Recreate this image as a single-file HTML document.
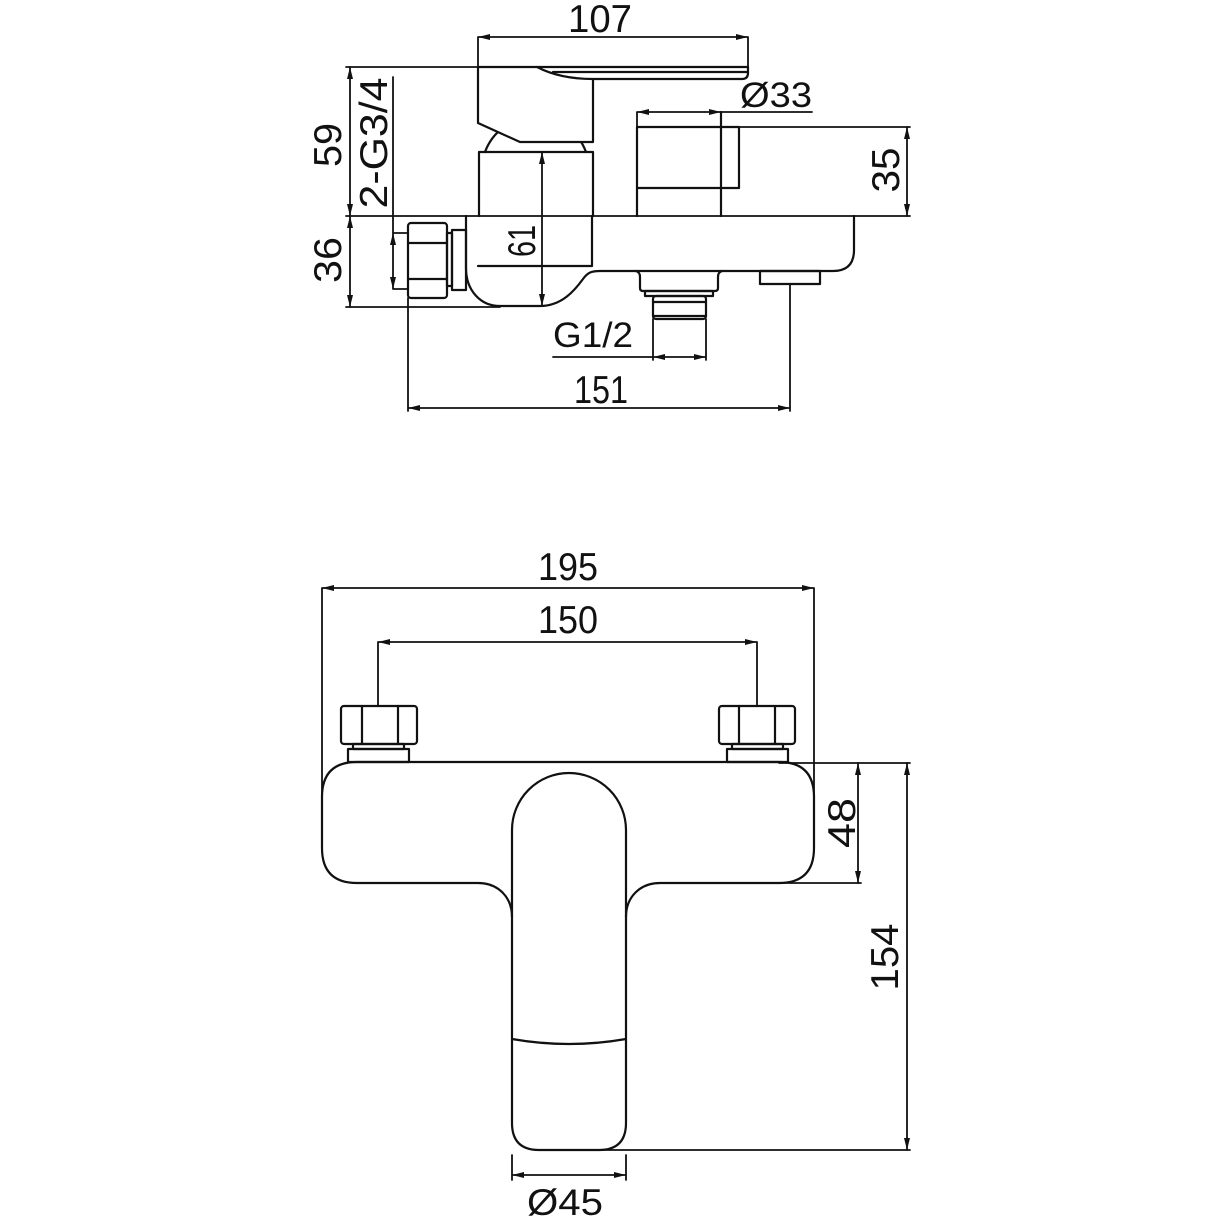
<!DOCTYPE html>
<html>
<head>
<meta charset="utf-8">
<style>
html,body{margin:0;padding:0;background:#fff;}
svg{display:block;}
text{font-family:"Liberation Sans","DejaVu Sans",sans-serif;fill:#111;}
</style>
</head>
<body>
<svg width="1220" height="1220" viewBox="0 0 1220 1220" xmlns="http://www.w3.org/2000/svg">
<rect width="1220" height="1220" fill="#fff"/>

<!-- ================= TOP (SIDE) VIEW ================= -->
<g fill="none" stroke="#111" stroke-width="2.2" stroke-linejoin="round" stroke-linecap="round">
  <!-- dome behind handle -->
  <path d="M485,152 A53.8,53.8 0 0 1 586,152"/>
  <!-- handle (white fill covers dome) -->
  <path d="M478,67 L748,67 L748,73 Q748,79 742,79 L593,79 L593,142 L520,142 L478,123 Z" fill="#fff"/>
  <path d="M537,67 Q560,79 593,79"/>
  <path d="M553,72 L748,72"/>
  <!-- column -->
  <path d="M479,216 L479,152 L593,152 L593,216"/>
  <!-- 61 inner ext -->
  <path d="M478,266 L592,266 L592,216"/>
  <!-- diverter -->
  <path d="M637,216 L637,127 L739,127 L739,188 L637,188"/>
  <path d="M721,112 L721,216"/>
  <!-- body -->
  <path d="M466,216 L466,268 C466,290 480,306 500,306 L540,306 C562,306 575,290 583,279 C588,272 592,271 600,271 L833,271 Q854,271 854,250 L854,216"/>
  <!-- nut -->
  <rect x="408" y="223" width="39" height="75" rx="3"/>
  <path d="M408,243 L447,243 M408,279 L447,279"/>
  <rect x="447" y="233" width="5" height="53"/>
  <rect x="452" y="230" width="14" height="60"/>
  <!-- outlet boss G1/2 -->
  <path d="M636,271 Q640,272 640,277 L640,288 Q640,291 643,291 L715,291 Q718,291 718,288 L718,277 Q718,272 722,271"/>
  <rect x="645" y="291" width="68" height="5"/>
  <rect x="653" y="296" width="53" height="23" rx="3"/>
  <path d="M653,302 L706,302 M653,316 L706,316"/>
  <!-- small rect -->
  <rect x="760" y="271" width="60" height="13"/>
</g>

<!-- top view dimension lines -->
<g fill="none" stroke="#111" stroke-width="1.8" stroke-linecap="round">
  <!-- long horizontal lines -->
  <path d="M346,67 L478,67"/>
  <path d="M346,216 L910,216"/>
  <path d="M346,307 L500,307"/>
  <path d="M739,127 L910,127"/>
  <!-- 107 -->
  <path d="M478,37 L748,37 M478,37 L478,67 M748,37 L748,67"/>
  <!-- 59 / 36 -->
  <path d="M350,67 L350,307"/>
  <!-- 2-G3/4 -->
  <path d="M393,77 L393,289 M393,233 L408,233 M393,289 L408,289"/>
  <!-- 61 -->
  <path d="M542,152 L542,306"/>
  <!-- Ø33 -->
  <path d="M637,112 L812,112 M637,112 L637,127"/>
  <!-- 35 -->
  <path d="M907,127 L907,216"/>
  <!-- G1/2 -->
  <path d="M553,357 L706,357 M653,319 L653,360 M706,319 L706,360"/>
  <!-- 151 -->
  <path d="M408,408 L790,408 M408,298 L408,411 M790,284 L790,411"/>
</g>
<g fill="#111" stroke="none">
  <!-- 107 -->
  <polygon points="478,37 490,34 490,40"/>
  <polygon points="748,37 736,34 736,40"/>
  <!-- 59 -->
  <polygon points="350,67 347,79 353,79"/>
  <polygon points="350,216 347,204 353,204"/>
  <!-- 36 -->
  <polygon points="350,216 347,228 353,228"/>
  <polygon points="350,307 347,295 353,295"/>
  <!-- 2-G3/4 -->
  <polygon points="393,233 390,245 396,245"/>
  <polygon points="393,289 390,277 396,277"/>
  <!-- 61 -->
  <polygon points="542,152 539,164 545,164"/>
  <polygon points="542,306 539,294 545,294"/>
  <!-- Ø33 -->
  <polygon points="637,112 649,109 649,115"/>
  <polygon points="721,112 709,109 709,115"/>
  <!-- 35 -->
  <polygon points="907,127 904,139 910,139"/>
  <polygon points="907,216 904,204 910,204"/>
  <!-- G1/2 -->
  <polygon points="653,357 665,354 665,360"/>
  <polygon points="706,357 694,354 694,360"/>
  <!-- 151 -->
  <polygon points="408,408 420,405 420,411"/>
  <polygon points="790,408 778,405 778,411"/>
</g>

<!-- top view labels -->
<g font-size="39">
  <text x="600" y="32" text-anchor="middle" textLength="64" lengthAdjust="spacingAndGlyphs">107</text>
  <text x="601" y="403" text-anchor="middle" textLength="54" lengthAdjust="spacingAndGlyphs">151</text>
  <text transform="translate(327,145) rotate(-90)" x="0" y="14" text-anchor="middle" textLength="44" lengthAdjust="spacingAndGlyphs">59</text>
  <text transform="translate(373,143) rotate(-90)" x="0" y="14" text-anchor="middle" textLength="131" lengthAdjust="spacingAndGlyphs">2-G3/4</text>
  <text transform="translate(327,260) rotate(-90)" x="0" y="14" text-anchor="middle" textLength="46" lengthAdjust="spacingAndGlyphs">36</text>
  <text transform="translate(521,241) rotate(-90)" x="0" y="14" text-anchor="middle" textLength="32" lengthAdjust="spacingAndGlyphs">61</text>
  <text transform="translate(885,170) rotate(-90)" x="0" y="14" text-anchor="middle" textLength="45" lengthAdjust="spacingAndGlyphs">35</text>
</g>
<g font-size="35">
  <text x="740" y="107" textLength="72" lengthAdjust="spacingAndGlyphs">Ø33</text>
  <text x="553" y="347" textLength="80" lengthAdjust="spacingAndGlyphs">G1/2</text>
</g>

<!-- ================= BOTTOM (FRONT) VIEW ================= -->
<g fill="none" stroke="#111" stroke-width="2.2" stroke-linejoin="round" stroke-linecap="round">
  <!-- body -->
  <path d="M512,917 C512,897 498,883 478,883 L357,883 Q322,883 322,848 L322,797 Q322,762 357,762 L779,762 Q814,762 814,797 L814,848 Q814,883 779,883 L660,883 C640,883 626,897 626,917"/>
  <!-- spout -->
  <path d="M512,1123 L512,830 A57,57 0 0 1 626,830 L626,1123 Q626,1150 599,1150 L539,1150 Q512,1150 512,1123"/>
  <path d="M512,1039 Q569,1049 626,1039"/>
  <!-- left nut -->
  <rect x="341" y="706" width="76" height="38" rx="3"/>
  <path d="M362,706 L362,744 M398,706 L398,744"/>
  <rect x="353" y="744" width="51" height="5"/>
  <rect x="348" y="749" width="61" height="13"/>
  <!-- right nut -->
  <rect x="719" y="706" width="76" height="38" rx="3"/>
  <path d="M739,706 L739,744 M775,706 L775,744"/>
  <rect x="732" y="744" width="51" height="5"/>
  <rect x="727" y="749" width="61" height="13"/>
</g>

<g fill="none" stroke="#111" stroke-width="1.8" stroke-linecap="round">
  <!-- 195 -->
  <path d="M322,588 L814,588 M322,588 L322,797 M814,588 L814,797"/>
  <!-- 150 -->
  <path d="M378,642 L757,642 M378,642 L378,706 M757,642 L757,706"/>
  <!-- 48 / 154 ext -->
  <path d="M779,763 L910,763 M779,883 L861,883 M599,1150 L910,1150"/>
  <path d="M858,763 L858,883"/>
  <path d="M907,763 L907,1150"/>
  <!-- Ø45 -->
  <path d="M512,1175 L626,1175 M512,1155 L512,1180 M626,1155 L626,1180"/>
</g>
<g fill="#111" stroke="none">
  <polygon points="322,588 334,585 334,591"/>
  <polygon points="814,588 802,585 802,591"/>
  <polygon points="378,642 390,639 390,645"/>
  <polygon points="757,642 745,639 745,645"/>
  <polygon points="858,763 855,775 861,775"/>
  <polygon points="858,883 855,871 861,871"/>
  <polygon points="907,763 904,775 910,775"/>
  <polygon points="907,1150 904,1138 910,1138"/>
  <polygon points="512,1175 524,1172 524,1178"/>
  <polygon points="626,1175 614,1172 614,1178"/>
</g>

<g font-size="39">
  <text x="568" y="580" text-anchor="middle" textLength="60" lengthAdjust="spacingAndGlyphs">195</text>
  <text x="568" y="633" text-anchor="middle" textLength="60" lengthAdjust="spacingAndGlyphs">150</text>
  <text transform="translate(841,823) rotate(-90)" x="0" y="14" text-anchor="middle" textLength="50" lengthAdjust="spacingAndGlyphs">48</text>
  <text transform="translate(884,957) rotate(-90)" x="0" y="14" text-anchor="middle" textLength="67" lengthAdjust="spacingAndGlyphs">154</text>
</g>
<g font-size="37">
  <text x="527" y="1215" textLength="76" lengthAdjust="spacingAndGlyphs">Ø45</text>
</g>
</svg>
</body>
</html>
